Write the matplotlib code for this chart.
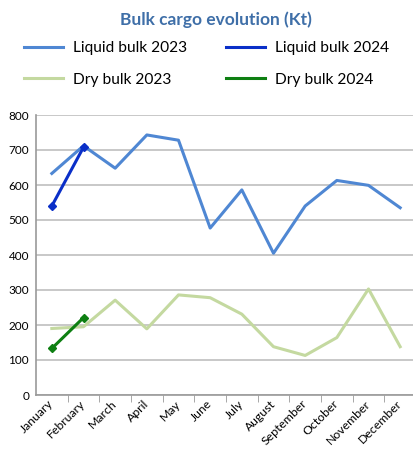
import matplotlib
matplotlib.use("Agg")
import matplotlib.pyplot as plt
from matplotlib.ticker import FixedLocator
from matplotlib.lines import Line2D
from matplotlib.transforms import ScaledTranslation

months = ["January", "February", "March", "April", "May", "June", "July",
          "August", "September", "October", "November", "December"]
liquid_2023 = [633, 712, 648, 743, 728, 477, 586, 405, 540, 613, 599, 535]
liquid_2024 = [540, 708]
dry_2023 = [190, 195, 271, 189, 286, 278, 231, 138, 113, 164, 303, 138]
dry_2024 = [133, 221]
yticks = [0, 100, 200, 300, 400, 500, 600, 700, 800]
labels = ['Liquid bulk 2023', 'Liquid bulk 2024', 'Dry bulk 2023', 'Dry bulk 2024']
colors = ['#4F87D3', '#0A2FC8', '#C4D9A0', '#0E7F12']

plt.rcParams['font.family'] = ['Lato', 'DejaVu Sans']

fig = plt.figure(figsize=(4.13, 4.49), dpi=100)
ax = fig.add_axes([36/413, 1-395/449, 380/413, 280/449])

x = list(range(len(months)))
ax.plot(x, liquid_2023, color=colors[0], lw=2.2)
ax.plot(x[:len(liquid_2024)], liquid_2024, color=colors[1], lw=2.2, marker='D', ms=4)
ax.plot(x, dry_2023, color=colors[2], lw=2.2)
ax.plot(x[:len(dry_2024)], dry_2024, color=colors[3], lw=2.2, marker='D', ms=4)

ax.set_xlim(-0.5, 11.5)
ax.set_ylim(0, 800)
ax.set_yticks(yticks)
ax.set_yticklabels([str(v) for v in yticks], fontsize=8.5)
ax.set_xticks(x)
ax.set_xticklabels(months, rotation=45, ha='right', va='center', rotation_mode='anchor', fontsize=8.8)
off = ScaledTranslation(5/72, 0, fig.dpi_scale_trans)
for t in ax.get_xticklabels():
    t.set_transform(t.get_transform() + off)
ax.xaxis.set_minor_locator(FixedLocator([i + 0.5 for i in range(11)]))
ax.tick_params(axis='x', which='major', length=0, pad=5)
ax.tick_params(axis='x', which='minor', length=5, color='#999999')
ax.tick_params(axis='y', length=0, pad=5)
ax.grid(axis='y', color='#BFBFBF', lw=1.2)
ax.set_axisbelow(True)
for s in ['top', 'right']:
    ax.spines[s].set_visible(False)
for s in ['left', 'bottom']:
    ax.spines[s].set_color('#999999')
    ax.spines[s].set_linewidth(1.2)

fig.text(216/413, 1-20/449, 'Bulk cargo evolution (Kt)', ha='center', va='center',
         fontsize=12.5, fontweight='bold', color='#3F6FA8')

handles = [Line2D([], [], color=c, lw=2.2) for c in colors]
order = [0, 2, 1, 3]
fig.legend([handles[i] for i in order], [labels[i] for i in order],
           loc='upper left', bbox_to_anchor=(24/413, 1-41/449), ncol=2, frameon=False,
           fontsize=11.2, handlelength=2.5, handletextpad=0.65, columnspacing=2.5,
           labelspacing=1.15, borderaxespad=0, borderpad=0)

fig.savefig('out.png', dpi=100)
